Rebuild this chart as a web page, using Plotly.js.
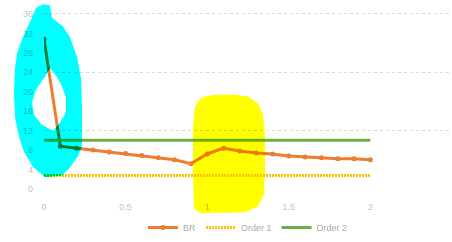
<!DOCTYPE html>
<html><head><meta charset="utf-8">
<script src="https://cdn.plot.ly/plotly-3.0.1.min.js"></script>
<style>
html,body{margin:0;padding:0;background:#fff}
#chart{width:452px;height:242px}
.shapelayer path{mix-blend-mode:multiply}
</style>
</head><body><div id="chart"></div>
<script>
// ---- data ----
const brX = [0, 0.1, 0.2, 0.3, 0.4, 0.5, 0.6, 0.7, 0.8, 0.9, 1.0, 1.1, 1.2, 1.3, 1.4, 1.5, 1.6, 1.7, 1.8, 1.9, 2.0];
const brValues = [30.8, 8.8, 8.4, 8.0, 7.6, 7.3, 6.9, 6.4, 6.0, 5.2, 7.2, 8.4, 7.8, 7.4, 7.2, 6.8, 6.6, 6.4, 6.2, 6.2, 6.0];
const orderX = [0, 2];
const order1 = [2.8, 2.8];
const order2 = [10, 10];
const seriesNames = ['BR', 'Order 1', 'Order 2'];
const xTicks = [0, 0.5, 1, 1.5, 2, 2.5];
const xTickText = ['0', '0.5', '1', '1.5', '2', '2.5'];
const yTicks = [0, 4, 8, 12, 16, 20, 24, 28, 32, 36];
const yGrid = 12;

// ---- highlighter outlines (pixel outlines converted to paper coords) ----
const PL = 44, PW = 408, PB = 194, PH = 183;
function pathFrom(rings) {
  return rings.map(r => 'M' + r.map(p => ((p[0]-PL)/PW).toFixed(4) + ',' + ((PB-p[1])/PH).toFixed(4)).join('L') + 'Z').join(' ');
}
const cyanOuter = [[43,4],[50,5],[52,18],[57,22],[63,27],[70,38],[77,58],[81,80],[82,110],[82,150],[78,160],[70,172],[62,180],[45,182],[33,171],[24,156],[19,140],[15,120],[14,95],[15,70],[17,55],[22,40],[30,22],[36,8]];
const cyanInner = [[50,70],[44,80],[36,92],[32,105],[34,118],[42,128],[53,134],[60,126],[66,115],[66,100],[61,86],[55,76]];
const yellowBlob = [[205,99],[215,97],[235,97],[248,99],[258,106],[263,118],[265,140],[265,175],[264,200],[258,212],[245,218],[200,219],[194,214],[193,180],[193,130],[195,110],[199,102]];

const axisFont = {family: 'Liberation Sans, Arial, sans-serif', size: 9, color: '#bfbfbf'};

const traces = [
  {x: brX, y: brValues, name: seriesNames[0], type: 'scatter', mode: 'lines+markers',
   line: {color: '#ED7D31', width: 3}, marker: {color: '#ED7D31', size: 5}},
  {x: orderX, y: order1, name: seriesNames[1], type: 'scatter', mode: 'lines', yaxis: 'y2',
   line: {color: '#FFC000', width: 3, dash: '2px,1px'}},
  {x: orderX, y: order2, name: seriesNames[2], type: 'scatter', mode: 'lines', yaxis: 'y2',
   line: {color: '#70AD47', width: 3}}
];

const yRange = [0, 36.6];
const layout = {
  width: 452, height: 242,
  margin: {l: PL, r: 452 - PL - PW, t: PB - PH, b: 242 - PB},
  paper_bgcolor: '#ffffff', plot_bgcolor: 'rgba(0,0,0,0)',
  showlegend: true,
  legend: {orientation: 'h', x: 0.5, xanchor: 'center', y: (PB - 234) / PH, yanchor: 'middle',
           font: {family: 'Liberation Sans, Arial, sans-serif', size: 9, color: '#a6a6a6'},
           itemwidth: 30, bgcolor: 'rgba(0,0,0,0)'},
  xaxis: {range: [0, 2.5], tickvals: xTicks, ticktext: xTickText, showgrid: false, zeroline: false,
          showline: false, ticks: '', tickfont: axisFont, ticklabelstandoff: 11, fixedrange: true},
  yaxis: {range: yRange, tickvals: yTicks, showgrid: false, zeroline: false, showline: false,
          ticks: '', tickfont: axisFont, ticklabelstandoff: 10, fixedrange: true},
  yaxis2: {overlaying: 'y', side: 'left', range: yRange, dtick: yGrid, tick0: 0, showgrid: true,
           gridcolor: '#d9d9d9', griddash: 'dot', gridwidth: 1, zeroline: false, showline: false,
           showticklabels: false, ticks: '', fixedrange: true},
  shapes: [
    {type: 'path', xref: 'paper', yref: 'paper', path: pathFrom([cyanOuter, cyanInner]),
     fillcolor: '#00FFFF', line: {width: 0}, layer: 'above'},
    {type: 'path', xref: 'paper', yref: 'paper', path: pathFrom([yellowBlob]),
     fillcolor: '#FFFF00', line: {width: 0}, layer: 'above'}
  ]
};

Plotly.newPlot('chart', traces, layout, {displayModeBar: false, staticPlot: true}).then(gd => {
  gd.querySelectorAll('.shapelayer path').forEach(p => { p.style.mixBlendMode = 'multiply'; });
});
</script>
</body></html>
